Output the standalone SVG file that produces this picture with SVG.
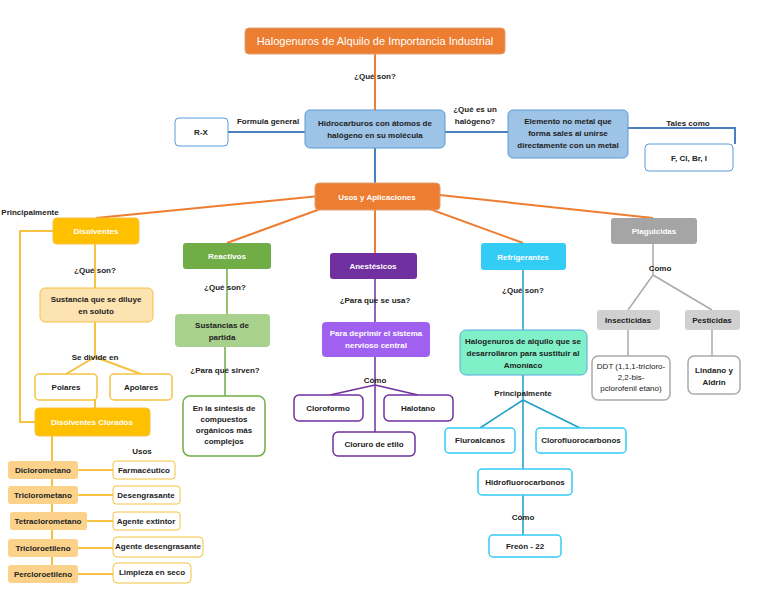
<svg xmlns="http://www.w3.org/2000/svg" width="768" height="594" viewBox="0 0 768 594">
<style>
text{font-family:"Liberation Sans",Arial,sans-serif;font-size:8px;font-weight:bold;text-anchor:middle;fill:#222}
.w{fill:#fff}
.t{font-size:11px;font-weight:normal}
.o{stroke:#ed7d31;stroke-width:2;fill:none}
.g{stroke:#f5c242;stroke-width:2;fill:none}
.b{stroke:#4a7fc1;stroke-width:2;fill:none}
.gr{stroke:#70ad47;stroke-width:1.5;fill:none}
.pu{stroke:#7030a0;stroke-width:1.5;fill:none}
.cy{stroke:#1f9fc4;stroke-width:1.5;fill:none}
.gy{stroke:#aaa;stroke-width:1.5;fill:none}
</style>
<rect width="768" height="594" fill="#fff"/>
<g id="connectors">
<path class="o" d="M375 54V110"/>
<path class="b" d="M228 132H305M445 132H508M628 128H735V144M375 148V183"/>
<path class="o" d="M340 194L96 218M345 200L227 243M375 210V253M405 200L523 243M430 194L653 218"/>
<path class="g" d="M53 231H20V422H35M95 244V288M95 322V357L66 374M95 357L141 374M95 400V408M52 436V565M78 470H113M78 495H113M87 521H113M78 548H113M78 574H113"/>
<path class="gr" d="M227 269V314M225 347V396"/>
<path class="pu" d="M375 279V322M375 357V432M375 385L330 395M375 385L418 395"/>
<path class="cy" d="M523 270V330M523 375V535M523 400L480 428M523 400L580 428"/>
<path class="gy" d="M653 244V275L628 310M653 275L712 310M628 330V356M712 330V356"/>
</g>
<g id="title"><rect x="245" y="28" width="260" height="26" rx="4" fill="#ed7d31" stroke="#e0a070"/><text x="375" y="45" class="w t">Halogenuros de Alquilo de Importancia Industrial</text></g>
<g id="labels">
<text x="375" y="79">¿Qué son?</text>
<text x="268" y="124">Formula general</text>
<text x="475" y="112">¿Qué es un</text><text x="475" y="124">halógeno?</text>
<text x="688" y="126">Tales como</text>
<text x="30" y="215">Principalmente</text>
<text x="95" y="273">¿Qué son?</text>
<text x="95" y="360">Se divide en</text>
<text x="142" y="454">Usos</text>
<text x="225" y="290">¿Qué son?</text>
<text x="225" y="373">¿Para qué sirven?</text>
<text x="375" y="303">¿Para que se usa?</text>
<text x="375" y="383">Cómo</text>
<text x="523" y="293">¿Qué son?</text>
<text x="523" y="396">Principalmente</text>
<text x="523" y="520">Cómo</text>
<text x="660" y="271">Como</text>
</g>
<g id="center"><rect x="305" y="110" width="140" height="38" rx="5" fill="#9dc3e6" stroke="#5b9bd5"/><text x="375" y="126">Hidrocarburos con átomos de</text><text x="375" y="138">halógeno en su molécula</text></g>
<g id="rx"><rect x="175" y="118" width="53" height="28" rx="4" fill="#fff" stroke="#5b9bd5"/><text x="201" y="135">R-X</text></g>
<g id="elemento"><rect x="508" y="110" width="120" height="48" rx="5" fill="#9dc3e6" stroke="#5b9bd5"/><text x="568" y="124">Elemento no metal que</text><text x="568" y="136">forma sales al unirse</text><text x="568" y="148">directamente con un metal</text></g>
<g id="fcl"><rect x="645" y="144" width="88" height="27" rx="4" fill="#fff" stroke="#5b9bd5"/><text x="689" y="161">F, Cl, Br, I</text></g>
<g id="usos"><rect x="315" y="183" width="125" height="27" rx="4" fill="#ed7d31" stroke="#e0a070"/><text x="377" y="200" class="w">Usos y Aplicaciones</text></g>
<g id="disolventes"><rect x="53" y="218" width="86" height="26" rx="4" fill="#ffc000" stroke="#f5c242"/><text x="96" y="234" class="w">Disolventes</text></g>
<g id="sustancia"><rect x="40" y="288" width="113" height="34" rx="5" fill="#fde3b0" stroke="#f5c242"/><text x="96" y="302">Sustancia que se diluye</text><text x="96" y="314">en soluto</text></g>
<g id="polares"><rect x="35" y="374" width="62" height="26" rx="4" fill="#fff" stroke="#f5c242" stroke-width="1.5"/><text x="66" y="390">Polares</text></g>
<g id="apolares"><rect x="110" y="374" width="62" height="26" rx="4" fill="#fff" stroke="#f5c242" stroke-width="1.5"/><text x="141" y="390">Apolares</text></g>
<g id="clorados"><rect x="35" y="408" width="115" height="28" rx="4" fill="#ffc000" stroke="#f5c242"/><text x="92" y="425" class="w">Disolventes Clorados</text></g>
<g id="c1"><rect x="8" y="461" width="70" height="18" rx="3" fill="#fcd28a"/><text x="43" y="473">Diclorometano</text></g>
<g id="c2"><rect x="8" y="486" width="70" height="18" rx="3" fill="#fcd28a"/><text x="43" y="498">Triclorometano</text></g>
<g id="c3"><rect x="10" y="512" width="77" height="18" rx="3" fill="#fcd28a"/><text x="48" y="524">Tetraclorometano</text></g>
<g id="c4"><rect x="8" y="539" width="70" height="18" rx="3" fill="#fcd28a"/><text x="43" y="551">Tricloroetileno</text></g>
<g id="c5"><rect x="8" y="565" width="70" height="18" rx="3" fill="#fcd28a"/><text x="43" y="577">Percloroetileno</text></g>
<g id="u1"><rect x="113" y="461" width="62" height="18" rx="3" fill="#fff" stroke="#f5c242"/><text x="144" y="473">Farmacéutico</text></g>
<g id="u2"><rect x="113" y="486" width="67" height="18" rx="3" fill="#fff" stroke="#f5c242"/><text x="146" y="498">Desengrasante</text></g>
<g id="u3"><rect x="113" y="512" width="67" height="18" rx="3" fill="#fff" stroke="#f5c242"/><text x="146" y="524">Agente extintor</text></g>
<g id="u4"><rect x="113" y="537" width="90" height="20" rx="4" fill="#fff" stroke="#f5c242"/><text x="158" y="549">Agente desengrasante</text></g>
<g id="u5"><rect x="113" y="563" width="78" height="20" rx="4" fill="#fff" stroke="#f5c242"/><text x="152" y="575">Limpieza en seco</text></g>
<g id="reactivos"><rect x="183" y="243" width="88" height="26" rx="3" fill="#70ad47"/><text x="227" y="259" class="w">Reactivos</text></g>
<g id="partida"><rect x="175" y="314" width="95" height="33" rx="4" fill="#a9d18e"/><text x="222" y="328">Sustancias de</text><text x="222" y="340">partida</text></g>
<g id="sintesis"><rect x="183" y="396" width="82" height="60" rx="7" fill="#fff" stroke="#70ad47" stroke-width="1.5"/><text x="224" y="411">En la síntesis de</text><text x="224" y="422">compuestos</text><text x="224" y="433">orgánicos más</text><text x="224" y="444">complejos</text></g>
<g id="anestesicos"><rect x="330" y="253" width="87" height="26" rx="3" fill="#7030a0"/><text x="373" y="269" class="w">Anestésicos</text></g>
<g id="deprimir"><rect x="322" y="322" width="108" height="35" rx="4" fill="#a061f0"/><text x="376" y="336" class="w">Para deprimir el sistema</text><text x="376" y="348" class="w">nervioso central</text></g>
<g id="cloroformo"><rect x="294" y="395" width="69" height="26" rx="5" fill="#fff" stroke="#7030a0" stroke-width="1.5"/><text x="328" y="411">Cloroformo</text></g>
<g id="halotano"><rect x="384" y="395" width="69" height="26" rx="5" fill="#fff" stroke="#7030a0" stroke-width="1.5"/><text x="418" y="411">Halotano</text></g>
<g id="cloruro"><rect x="333" y="432" width="82" height="24" rx="5" fill="#fff" stroke="#7030a0" stroke-width="1.5"/><text x="374" y="447">Cloruro de etilo</text></g>
<g id="refrigerantes"><rect x="481" y="243" width="85" height="27" rx="3" fill="#33ccf5"/><text x="523" y="260" class="w">Refrigerantes</text></g>
<g id="halog"><rect x="460" y="330" width="127" height="45" rx="6" fill="#7ff0c8" stroke="#5ad"/><text x="523" y="344">Halogenuros de alquilo que se</text><text x="523" y="356">desarrollaron para sustituir al</text><text x="523" y="368">Amoníaco</text></g>
<g id="fluro"><rect x="445" y="428" width="70" height="25" rx="4" fill="#fff" stroke="#33ccf5" stroke-width="1.5"/><text x="480" y="443">Fluroalcanos</text></g>
<g id="cfc"><rect x="536" y="428" width="90" height="25" rx="4" fill="#fff" stroke="#33ccf5" stroke-width="1.5"/><text x="581" y="443">Clorofluorocarbonos</text></g>
<g id="hfc"><rect x="478" y="469" width="94" height="26" rx="4" fill="#fff" stroke="#33ccf5" stroke-width="1.5"/><text x="525" y="485">Hidrofluorocarbonos</text></g>
<g id="freon"><rect x="489" y="535" width="72" height="22" rx="4" fill="#fff" stroke="#33ccf5" stroke-width="1.5"/><text x="525" y="549">Freón - 22</text></g>
<g id="plaguicidas"><rect x="611" y="218" width="86" height="26" rx="3" fill="#a5a5a5"/><text x="654" y="234" class="w">Plaguicidas</text></g>
<g id="insect"><rect x="597" y="310" width="63" height="20" rx="3" fill="#d0d0d0"/><text x="628" y="323">Insecticidas</text></g>
<g id="pest"><rect x="685" y="310" width="55" height="20" rx="3" fill="#d0d0d0"/><text x="712" y="323">Pesticidas</text></g>
<g id="ddt"><rect x="592" y="356" width="78" height="44" rx="6" fill="#fff" stroke="#aaa" stroke-width="1.5"/><text x="631" y="369" style="font-weight:normal">DDT (1,1,1-tricloro-</text><text x="631" y="380" style="font-weight:normal">2,2-bis-</text><text x="631" y="391" style="font-weight:normal">pclorofenil etano)</text></g>
<g id="lindano"><rect x="688" y="356" width="52" height="38" rx="6" fill="#fff" stroke="#aaa" stroke-width="1.5"/><text x="714" y="373">Lindano y</text><text x="714" y="385">Aldrin</text></g>
</svg>
